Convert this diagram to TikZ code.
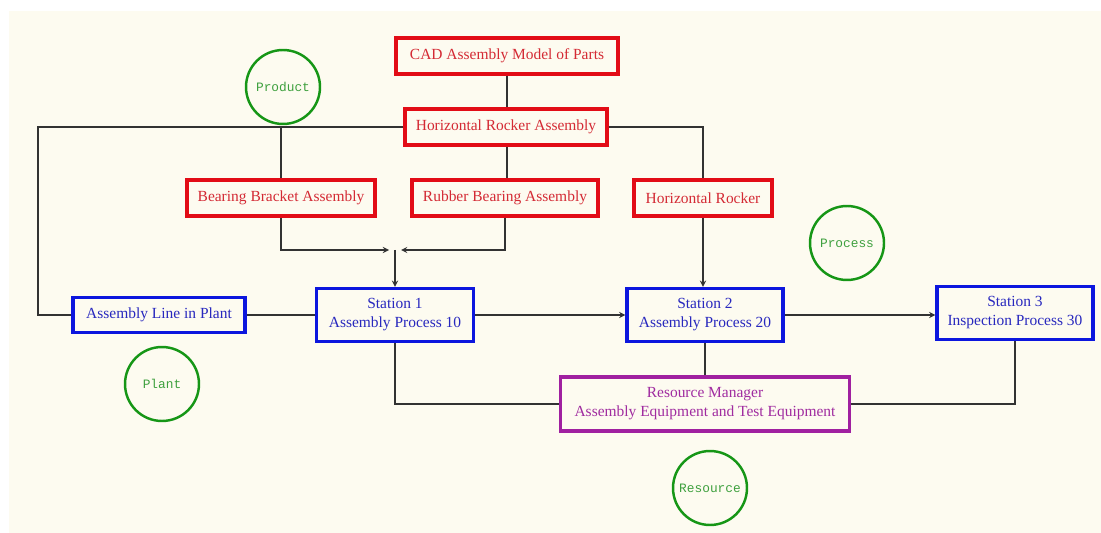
\documentclass[tikz,border=0pt]{standalone}
\usepackage{xcolor}
\usepackage{fontspec}
\setmainfont{Liberation Serif}
\newfontfamily\circfont{Liberation Mono}
\usepackage{tikz}
\usetikzlibrary{calc}
\usetikzlibrary{shapes,arrows}

\definecolor{paper}{RGB}{253,251,240}
\definecolor{partred}{RGB}{226,12,22}
\definecolor{parttext}{RGB}{212,42,52}
\definecolor{stnblue}{RGB}{12,22,222}
\definecolor{stntext}{RGB}{40,40,190}
\definecolor{resviolet}{RGB}{160,32,160}
\definecolor{restext}{RGB}{160,44,160}
\definecolor{tagGreen}{RGB}{22,150,22}
\definecolor{tagText}{RGB}{62,160,62}
\definecolor{wire}{RGB}{50,50,50}

\tikzset{
  partbox/.style={rectangle,draw=partred,line width=1.9pt,text=parttext,
    minimum height=0.72cm,inner sep=1pt,font=\fontsize{8.8}{10.8}\selectfont},
  stnbox/.style={rectangle,draw=stnblue,line width=1.9pt,text=stntext,align=center,
    minimum height=1.06cm,inner sep=1pt,font=\fontsize{8.8}{10.8}\selectfont},
  resbox/.style={rectangle,draw=resviolet,line width=1.9pt,text=restext,align=center,
    minimum height=1.08cm,inner sep=1pt,font=\fontsize{8.8}{10.8}\selectfont},
  tag/.style={circle,draw=tagGreen,line width=1.4pt,text=tagText,
    minimum size=1.48cm,inner sep=0pt,font=\circfont\fontsize{7.3}{8}\selectfont},
  wires/.style={draw=wire,line width=0.6pt,>=stealth}
}

\begin{document}
\begin{tikzpicture}[x=0.02cm,y=-0.02cm]
  % Frame
  \useasboundingbox (0,0) rectangle (1101,533);
  \fill[paper] (9,11) rectangle (1101,533);

  % Nodes
  \draw (507,56)  node(cad) [partbox,minimum width=4.44cm] {CAD Assembly Model of Parts};
  \draw (506,127) node(hra) [partbox,minimum width=4.04cm] {Horizontal Rocker Assembly};
  \draw (281,198) node(bba) [partbox,minimum width=3.76cm] {Bearing Bracket Assembly};
  \draw (505,198) node(rba) [partbox,minimum width=3.72cm] {Rubber Bearing Assembly};
  \draw (703,198) node(hr)  [partbox,minimum width=2.76cm] {Horizontal Rocker};

  \draw (159,315) node(alp) [stnbox,minimum width=3.44cm,minimum height=0.70cm] {Assembly Line in Plant};
  \draw (395,315) node(st1) [stnbox,minimum width=3.14cm] {Station 1\\Assembly Process 10};
  \draw (705,315) node(st2) [stnbox,minimum width=3.12cm] {Station 2\\Assembly Process 20};
  \draw (1015,313) node(st3) [stnbox,minimum width=3.12cm] {Station 3\\Inspection Process 30};
  \draw (705,404) node(rm)  [resbox,minimum width=5.78cm] {Resource Manager\\Assembly Equipment and Test Equipment};

  \draw (283,87)  node(product)  [tag] {Product};
  \draw (847,243) node(process)  [tag] {Process};
  \draw (162,384) node(plant)    [tag] {Plant};
  \draw (710,488) node(resource) [tag] {Resource};

  % Junctions
  \coordinate (wrap) at (38,127);
  \coordinate (join) at (395,250);

  % Edges
  \path[wires] (cad.south) -- (cad.south |- hra.north);
  \path[wires] (cad.south |- hra.south) -- (cad.south |- rba.north);
  \path[wires] (hra.west) -- (wrap) |- (alp.west);
  \path[wires] (bba.north |- hra.west) -- (bba.north);
  \path[wires] (hra.east) -| (hr.north);
  \path[wires,->] (hr.south) -- (st2.north -| hr.south);
  \path[wires,->] (bba.south) |- ($(join)+(-6,0)$);
  \path[wires,->] (rba.south) |- ($(join)+(6,0)$);
  \path[wires,->] (join) -- (st1.north);
  \path[wires] (alp.east) -- (st1.west);
  \path[wires,->] (st1.east) -- (st2.west);
  \path[wires,->] (st2.east) -- (st2.east -| st3.west);
  \path[wires] (st2.south) -- (rm.north);
  \path[wires] (st1.south) |- (rm.west);
  \path[wires] (rm.east) -| (st3.south);

\end{tikzpicture}
\end{document}
